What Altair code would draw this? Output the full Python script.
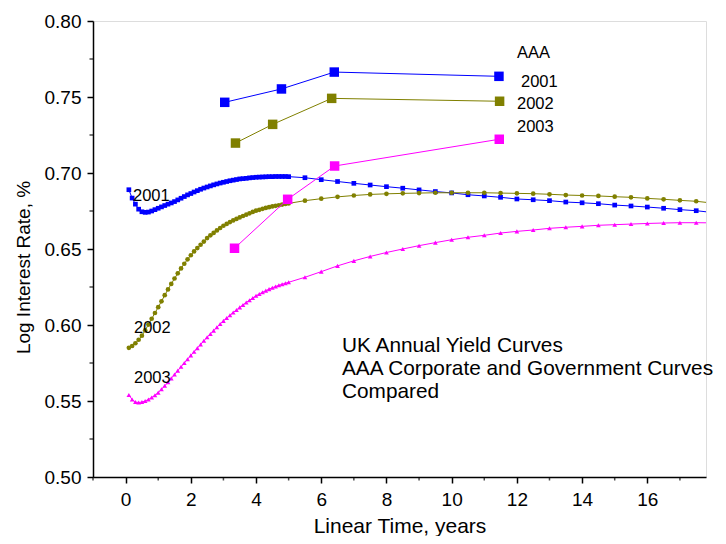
import altair as alt
import pandas as pd

SERIES = ["2001", "2002", "2003"]
COLORS = ["#0000FF", "#808000", "#FF00FF"]
SHAPES = ["square", "circle", "triangle-up"]

# sampling grid of the fitted curves (dense part, then half-year steps)
DENSE_T = [round(0.1 * i, 1) for i in range(1, 51)]
SPARSE_T = [5.5, 6.0, 6.5, 7.0, 7.5, 8.0, 8.5, 9.0, 9.5, 10.0, 10.5, 11.0, 11.5,
            12.0, 12.5, 13.0, 13.5, 14.0, 14.5, 15.0, 15.5, 16.0, 16.5, 17.0, 17.5, 18.0]

GOV_2001_DENSE = [0.6890, 0.6835, 0.6795, 0.6762, 0.6745, 0.6741, 0.6743, 0.6750, 0.6759, 0.6768,
                  0.6777, 0.6786, 0.6795, 0.6803, 0.6812, 0.6823, 0.6834, 0.6845, 0.6856, 0.6865,
                  0.6875, 0.6884, 0.6893, 0.6901, 0.6908, 0.6915, 0.6922, 0.6928, 0.6934, 0.6939,
                  0.6944, 0.6949, 0.6953, 0.6957, 0.6961, 0.6963, 0.6965, 0.6968, 0.6970, 0.6972,
                  0.6973, 0.6974, 0.6975, 0.6976, 0.6976, 0.6977, 0.6977, 0.6977, 0.6977, 0.6976]
GOV_2001_SPARSE = [0.6969, 0.6956, 0.6944, 0.6932, 0.6921, 0.6910, 0.6900, 0.6889, 0.6878, 0.6869,
                   0.6857, 0.6849, 0.6840, 0.6829, 0.6824, 0.6818, 0.6809, 0.6804, 0.6798, 0.6789,
                   0.6783, 0.6776, 0.6768, 0.6759, 0.6752, 0.6740]

GOV_2002_DENSE = [0.5850, 0.5862, 0.5880, 0.5903, 0.5930, 0.5965, 0.6003, 0.6041, 0.6079, 0.6117,
                  0.6156, 0.6196, 0.6234, 0.6270, 0.6306, 0.6340, 0.6372, 0.6403, 0.6432, 0.6459,
                  0.6484, 0.6506, 0.6528, 0.6549, 0.6572, 0.6590, 0.6606, 0.6622, 0.6638, 0.6653,
                  0.6665, 0.6677, 0.6688, 0.6698, 0.6708, 0.6717, 0.6726, 0.6735, 0.6744, 0.6752,
                  0.6758, 0.6764, 0.6770, 0.6775, 0.6780, 0.6784, 0.6788, 0.6792, 0.6796, 0.6800]
GOV_2002_SPARSE = [0.6818, 0.6831, 0.6843, 0.6852, 0.6859, 0.6863, 0.6866, 0.6868, 0.6870, 0.6870,
                   0.6870, 0.6870, 0.6868, 0.6866, 0.6864, 0.6860, 0.6855, 0.6852, 0.6849, 0.6844,
                   0.6840, 0.6833, 0.6827, 0.6820, 0.6814, 0.6802]

GOV_2003_DENSE = [0.5540, 0.5510, 0.5493, 0.5490, 0.5493, 0.5500, 0.5510, 0.5523, 0.5538, 0.5555,
                  0.5577, 0.5600, 0.5624, 0.5649, 0.5674, 0.5700, 0.5725, 0.5750, 0.5775, 0.5800,
                  0.5824, 0.5848, 0.5872, 0.5896, 0.5919, 0.5941, 0.5963, 0.5985, 0.6006, 0.6027,
                  0.6046, 0.6064, 0.6082, 0.6099, 0.6116, 0.6132, 0.6148, 0.6163, 0.6178, 0.6192,
                  0.6204, 0.6215, 0.6226, 0.6236, 0.6245, 0.6253, 0.6261, 0.6268, 0.6275, 0.6281]
GOV_2003_SPARSE = [0.6314, 0.6351, 0.6389, 0.6422, 0.6451, 0.6477, 0.6500, 0.6522, 0.6542, 0.6561,
                   0.6577, 0.6590, 0.6605, 0.6616, 0.6625, 0.6636, 0.6643, 0.6649, 0.6656, 0.6660,
                   0.6664, 0.6668, 0.6671, 0.6673, 0.6673, 0.6672]

AAA_T_2001 = [3.04, 4.78, 6.40, 11.45]
AAA_2001 = [0.7465, 0.7553, 0.7664, 0.7636]
AAA_T_2002 = [3.37, 4.51, 6.32, 11.47]
AAA_2002 = [0.7197, 0.7320, 0.7491, 0.7472]
AAA_T_2003 = [3.34, 4.97, 6.41, 11.46]
AAA_2003 = [0.6505, 0.6827, 0.7046, 0.7222]

X_MAJOR = [0, 2, 4, 6, 8, 10, 12, 14, 16]
X_MINOR = [-1, 1, 3, 5, 7, 9, 11, 13, 15, 17]
Y_MAJOR = [0.50, 0.55, 0.60, 0.65, 0.70, 0.75, 0.80]
Y_MINOR = [0.525, 0.575, 0.625, 0.675, 0.725, 0.775]

FONT = "Liberation Sans"
PLOT_W, PLOT_H = 613, 456

gov_rows = []
for s, dense, sparse in zip(SERIES, [GOV_2001_DENSE, GOV_2002_DENSE, GOV_2003_DENSE],
                            [GOV_2001_SPARSE, GOV_2002_SPARSE, GOV_2003_SPARSE]):
    for t, v in zip(DENSE_T + SPARSE_T, dense + sparse):
        gov_rows.append({"series": s, "t": t, "rate": v})
gov = pd.DataFrame(gov_rows)

aaa_rows = []
for s, ts, vs in zip(SERIES, [AAA_T_2001, AAA_T_2002, AAA_T_2003], [AAA_2001, AAA_2002, AAA_2003]):
    for t, v in zip(ts, vs):
        aaa_rows.append({"series": s, "t": t, "rate": v})
aaa = pd.DataFrame(aaa_rows)

xscale = alt.Scale(domain=[-1, 17.8], nice=False, zero=False)
yscale = alt.Scale(domain=[0.5, 0.8], nice=False, zero=False)
cscale = alt.Scale(domain=SERIES, range=COLORS)
sscale = alt.Scale(domain=SERIES, range=SHAPES)

axis_common = dict(grid=False, domainColor="black", domainWidth=1.5, tickColor="black",
                   tickWidth=1.5, tickSize=6, labelColor="black", labelFont=FONT,
                   labelFontSize=19, labelOverlap=False, titleFont=FONT, titleColor="black",
                   titleFontWeight="normal")

x_major = alt.X("t:Q", scale=xscale, axis=alt.Axis(
    values=X_MAJOR, labelPadding=7, title="Linear Time, years",
    titleFontSize=21, titleY=55, titleBaseline="alphabetic", orient="bottom", **axis_common))
y_major = alt.Y("rate:Q", scale=yscale, axis=alt.Axis(
    values=Y_MAJOR, format=".2f", labelPadding=6, title="Log Interest Rate, %",
    titleFontSize=19, titleAngle=270, titleX=-70, titleY=246, titleBaseline="middle",
    titleAlign="center", orient="left", **axis_common))

base_gov = alt.Chart(gov)
gov_lines = base_gov.mark_line(strokeWidth=1, clip=True).encode(
    x=x_major, y=y_major,
    color=alt.Color("series:N", scale=cscale, legend=None),
    detail="series:N", order="t:Q")
gov_points = base_gov.mark_point(filled=True, size=22, opacity=1, clip=True).encode(
    x=alt.X("t:Q", scale=xscale), y=alt.Y("rate:Q", scale=yscale),
    color=alt.Color("series:N", scale=cscale, legend=None),
    shape=alt.Shape("series:N", scale=sscale, legend=None))

base_aaa = alt.Chart(aaa)
aaa_lines = base_aaa.mark_line(strokeWidth=1).encode(
    x=alt.X("t:Q", scale=xscale), y=alt.Y("rate:Q", scale=yscale),
    color=alt.Color("series:N", scale=cscale, legend=None),
    detail="series:N", order="t:Q")
aaa_points = base_aaa.mark_point(filled=True, size=90, shape="square", opacity=1).encode(
    x=alt.X("t:Q", scale=xscale), y=alt.Y("rate:Q", scale=yscale),
    color=alt.Color("series:N", scale=cscale, legend=None))

# minor ticks (outside the plot, like the axis ticks)
minor_x = alt.Chart(pd.DataFrame({"t": X_MINOR})).mark_tick(
    size=3.5, thickness=1.5, color="black", orient="vertical").encode(
    x=alt.X("t:Q", scale=xscale), y=alt.value(PLOT_H + 1.75))
minor_y = alt.Chart(pd.DataFrame({"rate": Y_MINOR})).mark_tick(
    size=3.5, thickness=1.5, color="black", orient="horizontal").encode(
    y=alt.Y("rate:Q", scale=yscale), x=alt.value(-1.75))


def label(text, px, py, size):
    return alt.Chart(pd.DataFrame({"txt": [text]})).mark_text(
        font=FONT, fontSize=size, color="black", align="left", baseline="alphabetic"
    ).encode(x=alt.value(px), y=alt.value(py), text="txt:N")


texts = [
    label("2001", 40, 180, 16.5),
    label("2002", 41, 312, 16.5),
    label("2003", 41, 362, 16.5),
    label("AAA", 424, 37, 16.5),
    label("2001", 428, 66, 16.5),
    label("2002", 424, 88, 16.5),
    label("2003", 424, 111, 16.5),
    label("UK Annual Yield Curves", 249, 331, 20.8),
    label("AAA Corporate and Government Curves", 249, 354, 20.8),
    label("Compared", 249, 377, 20.8),
]

chart = alt.layer(
    gov_lines, gov_points, aaa_lines, aaa_points, minor_x, minor_y, *texts
).properties(
    width=PLOT_W, height=PLOT_H,
    autosize=alt.AutoSizeParams(type="none"),
    padding={"left": 85, "top": 13, "right": 12, "bottom": 59},
).configure_view(stroke=None).configure(background="white")

chart.save("out.html", embed_options={"renderer": "svg", "actions": False})
